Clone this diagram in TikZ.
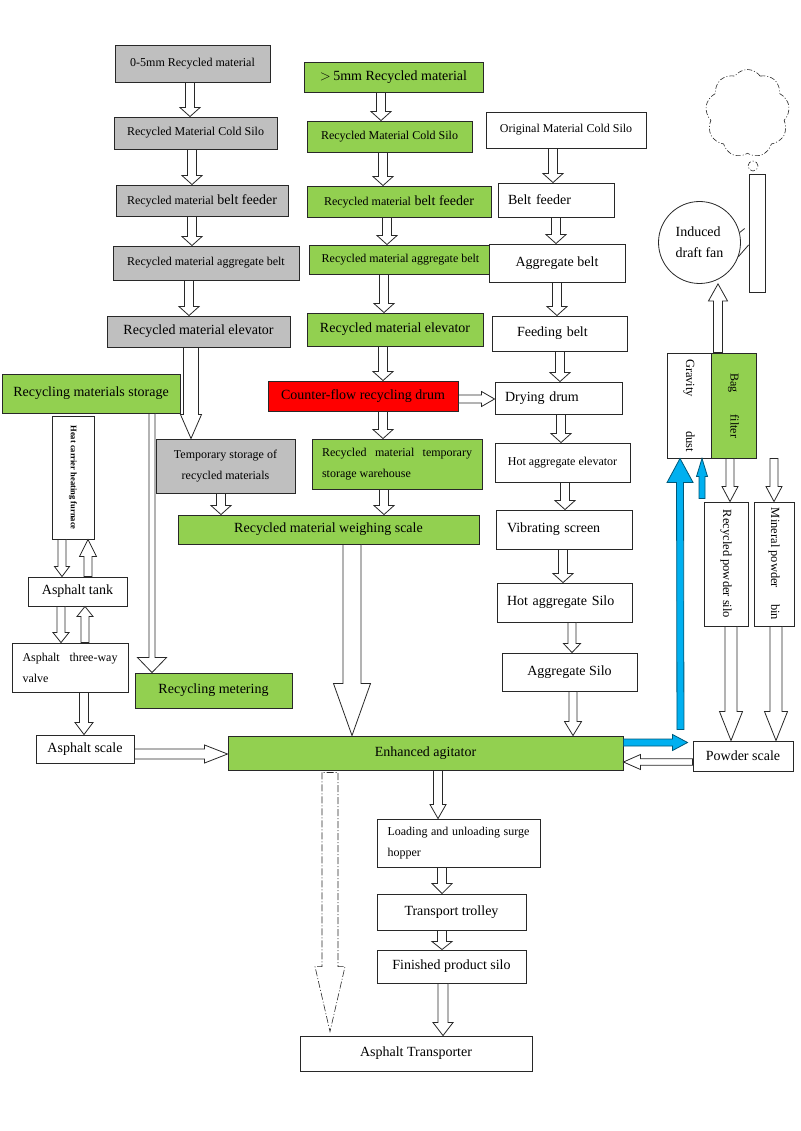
\documentclass[tikz,border=0pt]{standalone}
\usepackage{fontspec}
\setmainfont{Liberation Serif}
\usetikzlibrary{calc,shapes.symbols}

\definecolor{edge}{RGB}{40,40,40}
\definecolor{boxgray}{RGB}{191,191,191}
\definecolor{boxgreen}{RGB}{146,208,80}
\definecolor{boxred}{RGB}{255,0,0}
\definecolor{flowblue}{RGB}{0,176,240}

\newcommand{\fbig}{\fontsize{14}{21}\selectfont}
\newcommand{\fsmall}{\fontsize{12}{21}\selectfont}
\newcommand{\fside}{\fontsize{12.5}{15}\selectfont}
\newcommand{\fheat}{\fontsize{8.5}{10}\selectfont\bfseries}

% hollow block arrow from #2 to #3
\newcommand{\flow}[3][]{%
    \path[flowarrow,#1] let \p1=#2, \p2=#3,
        \n1={atan2(\y2-\y1,\x2-\x1)}, \n2={veclen(\x2-\x1,\y2-\y1)} in
        ([shift={(\p1)},rotate=\n1]0pt,{-\flowshaft pt})
        -- ([shift={(\p1)},rotate=\n1]{\n2-\flowheadl pt},{-\flowshaft pt})
        -- ([shift={(\p1)},rotate=\n1]{\n2-\flowheadl pt},{-\flowheadw pt})
        -- ([shift={(\p1)},rotate=\n1]{\n2+0pt},0pt)
        -- ([shift={(\p1)},rotate=\n1]{\n2-\flowheadl pt},{\flowheadw pt})
        -- ([shift={(\p1)},rotate=\n1]{\n2-\flowheadl pt},{\flowshaft pt})
        -- ([shift={(\p1)},rotate=\n1]0pt,{\flowshaft pt}) -- cycle;}

\begin{document}
\begin{tikzpicture}[x=1pt, y=-1pt,
    sz/.style 2 args={minimum width=#1pt, minimum height=#2pt},
    shaft/.store in=\flowshaft, headw/.store in=\flowheadw, headl/.store in=\flowheadl]
    % Define styles
    \tikzstyle{box} = [rectangle, draw=edge, line width=0.9pt, font=\fbig, align=center, inner sep=2pt]
    \tikzstyle{whitebox} = [box, fill=white]
    \tikzstyle{graybox} = [box, fill=boxgray]
    \tikzstyle{greenbox} = [box, fill=boxgreen]
    \tikzstyle{redbox} = [box, fill=boxred]
    \tikzstyle{flowarrow} = [draw=edge, line width=0.8pt, fill=white, shaft=4.5, headw=10, headl=9]
    \tikzstyle{blueflow} = [draw=flowblue!50!black, fill=flowblue]
    \tikzstyle{smokeline} = [draw=edge, line width=0.6pt, dash pattern=on 5pt off 2pt on 1pt off 2pt]

    \useasboundingbox (0,0) rectangle (800,1131);

    % Nodes: fine recycled material
    \node[graybox, sz={155}{37}, font=\fsmall] (rap) at (192.5,63.5) {0-5mm Recycled material};
    \node[graybox, sz={163}{32}, font=\fsmall] (rapsilo) at (195.5,133) {Recycled Material Cold Silo};
    \node[graybox, sz={172}{31}] (rapfeed) at (202,200.5) {{\fsmall Recycled material} belt feeder};
    \node[graybox, sz={186}{34}, font=\fsmall] (rapbelt) at (206,263) {Recycled material aggregate belt};
    \node[graybox, sz={183}{31}] (raplift) at (198.5,331.5) {Recycled material elevator};
    \node[graybox, sz={139}{54}, font=\fsmall] (tempstore) at (225.5,466) {Temporary storage of\\recycled materials};

    % Nodes: coarse recycled material
    \node[greenbox, sz={179}{30}] (bigrap) at (393.5,77) {$>$\,5mm Recycled material};
    \node[greenbox, sz={165}{31}, font=\fsmall] (bigsilo) at (389.5,136.5) {Recycled Material Cold Silo};
    \node[greenbox, sz={184}{31}] (bigfeed) at (399,201.5) {{\fsmall Recycled material} belt feeder};
    \node[greenbox, sz={183}{29}, font=\fsmall] (bigbelt) at (400.5,259.5) {Recycled material aggregate belt};
    \node[greenbox, sz={176}{33}] (biglift) at (395,329.5) {Recycled material elevator};
    \node[redbox, sz={190}{30}] (drum) at (363,396) {Counter-flow recycling drum};
    \node[greenbox, sz={170}{50}, font=\fsmall, text width=150pt, align=justify, inner xsep=10pt] (warehouse) at (397,464) {Recycled material temporary storage warehouse};
    \node[greenbox, sz={301}{29}] (weigh) at (328.5,529.5) {Recycled material weighing scale};

    % Nodes: original aggregate
    \node[whitebox, sz={160}{36}, font=\fsmall] (orisilo) at (566,130) {Original Material Cold Silo};
    \node[whitebox, sz={116}{34}, text width=96pt, inner xsep=10pt, align=left] (belt) at (556,200) {Belt feeder};
    \node[whitebox, sz={136}{38}] (aggbelt) at (557,263) {Aggregate belt};
    \node[whitebox, sz={135}{35}, text width=85pt, inner xsep=25pt, align=left] (feedbelt) at (559.5,333.5) {Feeding belt};
    \node[whitebox, sz={127}{32}, text width=107pt, inner xsep=10pt, align=left] (dryer) at (558.5,398) {Drying drum};
    \node[whitebox, sz={135}{39}, font=\fsmall] (hotlift) at (562.5,462.5) {Hot aggregate elevator};
    \node[whitebox, sz={136}{39}, text width=114pt, inner xsep=11pt, align=left] (screen) at (564,529.5) {Vibrating screen};
    \node[whitebox, sz={135}{39}, text width=115pt, inner xsep=10pt, align=left] (hotsilo) at (564.5,602.5) {Hot aggregate Silo};
    \node[whitebox, sz={135}{38}] (aggsilo) at (569.5,672) {Aggregate Silo};

    % Nodes: asphalt side
    \node[greenbox, sz={178}{39}] (store) at (91,393.5) {Recycling materials storage};
    \node[whitebox, sz={42}{123}, label={[rotate=-90, font=\fheat]center:Heat carrier heating furnace}] (furnace) at (73,477.5) {};
    \node[whitebox, sz={99}{29}] (tank) at (77.5,591.5) {Asphalt tank};
    \node[whitebox, sz={116}{49}, font=\fsmall, text width=95pt, align=justify, inner xsep=10.5pt] (valve) at (70,667.5) {Asphalt three-way valve};
    \node[greenbox, sz={157}{35}] (meter) at (213.5,690.5) {Recycling metering};
    \node[whitebox, sz={98}{28}] (ascale) at (85,749) {Asphalt scale};
    \node[greenbox, sz={395}{34}] (mixer) at (425.5,753) {Enhanced agitator};

    % Nodes: dust and powder
    \node[whitebox, sz={44}{105}, label={[rotate=-90, font=\fside]center:{\makebox[93pt][s]{Gravity dust}}}] (dust) at (689,405.5) {};
    \node[greenbox, sz={45}{105}, label={[rotate=-90, font=\fsmall]center:{\makebox[65pt][s]{Bag filter}}}] (filter) at (733.5,405.5) {};
    \node[whitebox, sz={44}{124}, label={[rotate=-90, font=\fside]center:Recycled powder silo}] (rpsilo) at (726,564) {};
    \node[whitebox, sz={40}{124}, label={[rotate=-90, font=\fside]center:{Mineral powder\hspace{16pt}bin}}] (minbin) at (774,564) {};
    \node[whitebox, sz={100}{30}] (pscale) at (743,756) {Powder scale};
    \node[whitebox, sz={16}{118}] (stack) at (757,233) {};
    \node[circle, draw=edge, line width=0.8pt, fill=white, minimum size=82pt, inner sep=0pt, font=\fbig, align=left] (fan) at (699.5,242.5) {Induced\\draft fan};
    \node[cloud, smokeline, cloud puffs=9, cloud puff arc=110, minimum width=84pt, minimum height=88pt] (smoke) at (747.5,113.5) {};

    % Nodes: product
    \node[whitebox, sz={163}{48}, font=\fsmall, text width=142pt, align=justify, inner xsep=10.5pt] (hopper) at (458.5,843) {Loading and unloading surge hopper};
    \node[whitebox, sz={149}{36}] (trolley) at (451.5,912) {Transport trolley};
    \node[whitebox, sz={149}{33}] (prodsilo) at (451.5,966.5) {Finished product silo};
    \node[whitebox, sz={232}{35}] (transport) at (416,1053.5) {Asphalt Transporter};

    % Fan outlet and smoke
    \draw[edge, line width=0.8pt] (fan.-20) -- ([yshift=-12pt]stack.west);
    \draw[edge, line width=0.8pt] (fan.14) -- ++(5pt,4pt);
    \draw[smokeline] (753,166) circle (5pt);

    % Arrows: fine recycled material
    \flow{([xshift=-2.5pt]rap.south)}{([xshift=-5.5pt]rapsilo.north)}
    \flow{([xshift=-3.5pt]rapsilo.south)}{([xshift=-10pt]rapfeed.north)}
    \flow{([xshift=-10pt]rapfeed.south)}{([xshift=-14pt]rapbelt.north)}
    \flow{([xshift=-17pt]rapbelt.south)}{([xshift=-9.5pt]raplift.north)}
    \flow[shaft=7.5, headw=10.5, headl=24]{([xshift=-7.5pt]raplift.south)}{([xshift=-34.5pt]tempstore.north)}
    \flow{([xshift=-4.5pt]tempstore.south)}{([xshift=-107.5pt]weigh.north)}

    % Arrows: coarse recycled material
    \flow{([xshift=-12.5pt]bigrap.south)}{([xshift=-8.5pt]bigsilo.north)}
    \flow{([xshift=-6.5pt]bigsilo.south)}{([xshift=-16pt]bigfeed.north)}
    \flow{([xshift=-12pt]bigfeed.south)}{([xshift=-13.5pt]bigbelt.north)}
    \flow{([xshift=-16.5pt]bigbelt.south)}{([xshift=-11pt]biglift.north)}
    \flow{([xshift=-12pt]biglift.south)}{([xshift=20pt]drum.north)}
    \flow{([xshift=20pt]drum.south)}{([xshift=-14pt]warehouse.north)}
    \flow{([xshift=-13pt]warehouse.south)}{([xshift=55.5pt]weigh.north)}
    \flow[shaft=9, headw=18.5, headl=52]{([xshift=23.5pt]weigh.south)}{([xshift=-73.5pt]mixer.north)}
    \flow[shaft=4, headw=7.5, headl=13]{([yshift=-3pt]drum.east)}{([yshift=-1pt]dryer.west)}

    % Arrows: original aggregate
    \flow{([xshift=-13pt]orisilo.south)}{([xshift=-3pt]belt.north)}
    \flow{(belt.south)}{([xshift=-1pt]aggbelt.north)}
    \flow{(aggbelt.south)}{([xshift=-2.5pt]feedbelt.north)}
    \flow{([xshift=0.5pt]feedbelt.south)}{([xshift=1.5pt]dryer.north)}
    \flow{([xshift=2.5pt]dryer.south)}{([xshift=-1.5pt]hotlift.north)}
    \flow{([xshift=2.5pt]hotlift.south)}{([xshift=1pt]screen.north)}
    \flow{([xshift=-1pt]screen.south)}{([xshift=-1.5pt]hotsilo.north)}
    \flow[shaft=4, headw=8.5]{([xshift=7.5pt]hotsilo.south)}{([xshift=2.5pt]aggsilo.north)}
    \flow[shaft=4, headw=8.5, headl=14]{([xshift=3.5pt]aggsilo.south)}{([xshift=147.5pt]mixer.north)}

    % Arrows: asphalt side
    \flow[shaft=3, headw=14.5, headl=15]{([xshift=61pt]store.south)}{([xshift=-61.5pt]meter.north)}
    \flow[shaft=4, headw=7.5, headl=10]{([xshift=-11pt]furnace.south)}{([xshift=-15.5pt]tank.north)}
    \flow[shaft=4, headw=8.5, headl=17]{([xshift=10.5pt]tank.north)}{([xshift=15pt]furnace.south)}
    \flow[shaft=4, headw=8, headl=10]{([xshift=-16.5pt]tank.south)}{([xshift=-9pt]valve.north)}
    \flow[shaft=4, headw=8, headl=10]{([xshift=15pt]valve.north)}{([xshift=7.5pt]tank.south)}
    \flow[shaft=4.5, headw=9, headl=12]{([xshift=14pt]valve.south)}{([xshift=-1pt]ascale.north)}
    \flow[shaft=5, headw=9, headl=23]{([yshift=-5pt]ascale.east)}{([yshift=-1pt]mixer.west)}

    % Arrows: dust and powder
    \flow[shaft=4.5, headw=9.5, headl=17]{([xshift=-15.5pt]filter.north)}{([xshift=18.5pt]fan.south)}
    \flow[shaft=4, headw=8, headl=15]{([xshift=-3.5pt]filter.south)}{([xshift=4pt]rpsilo.north)}
    \flow[shaft=4, headw=8, headl=15]{(minbin.north |- filter.south)}{(minbin.north)}
    \flow[shaft=6, headw=11.5, headl=29]{([xshift=5pt]rpsilo.south)}{([xshift=-12pt]pscale.north)}
    \flow[shaft=6, headw=11.5, headl=29]{([xshift=2pt]minbin.south)}{([xshift=33pt]pscale.north)}
    \flow[shaft=3.25, headw=7.5, headl=17]{([yshift=-6pt]pscale.west)}{([yshift=-9pt]mixer.east)}
    \flow[blueflow, shaft=3.5, headw=8, headl=15]{([yshift=10.5pt]mixer.east)}{([xshift=-5pt, yshift=13.5pt]pscale.west)}
    \flow[blueflow, shaft=3.5, headw=13, headl=24]{([xshift=57pt, yshift=6pt]mixer.north east)}{([xshift=-9pt]dust.south)}
    \flow[blueflow, shaft=3, headw=5.5, headl=18]{([xshift=-24pt, yshift=3pt]rpsilo.north)}{([xshift=13pt]dust.south)}

    % Arrows: product
    \flow[shaft=4.5, headw=8, headl=14]{([xshift=12.5pt]mixer.south)}{([xshift=-20.5pt]hopper.north)}
    \flow[headl=10]{([xshift=-16.5pt]hopper.south)}{([xshift=-9.5pt]trolley.north)}
    \flow[headl=8]{([xshift=-9.5pt]trolley.south)}{([xshift=-9.5pt]prodsilo.north)}
    \flow[shaft=5, headw=10, headl=13]{([xshift=-8.5pt]prodsilo.south)}{([xshift=27pt]transport.north)}
    \flow[shaft=8, headw=15, headl=65, line width=0.6pt, dash pattern=on 7pt off 2pt on 1pt off 2pt]{([xshift=-95.5pt, yshift=-2pt]mixer.south)}{([xshift=-86pt, yshift=4pt]transport.north)}
\end{tikzpicture}
\end{document}
